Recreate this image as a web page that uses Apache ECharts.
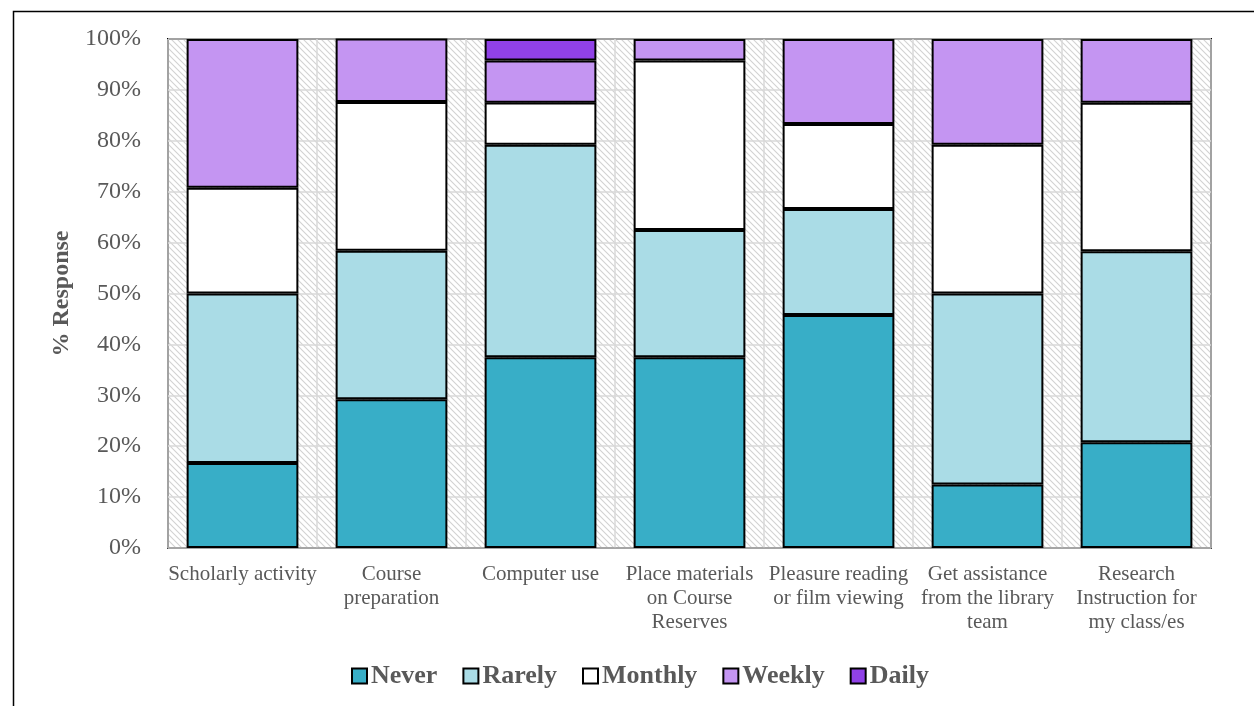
<!DOCTYPE html>
<html>
<head>
<meta charset="utf-8">
<script src="https://cdn.jsdelivr.net/npm/echarts@6/dist/echarts.min.js"></script>
<style>
html,body{margin:0;padding:0;background:#fff;}
#chart{width:1254px;height:706px;}
</style>
</head>
<body>
<div id="chart"></div>
<script>
const categories = ['Scholarly activity', 'Course\npreparation', 'Computer use', 'Place materials\non Course\nReserves', 'Pleasure reading\nor film viewing', 'Get assistance\nfrom the library\nteam', 'Research\nInstruction for\nmy class/es'];
const never   = [16.7, 29.2, 37.5, 37.5, 45.8, 12.5, 20.8];
const rarely  = [33.3, 29.2, 41.7, 25.0, 20.8, 37.5, 37.5];
const monthly = [20.8, 29.2, 8.3, 33.3, 16.7, 29.2, 29.2];
const weekly  = [29.2, 12.5, 8.3, 4.2, 16.7, 20.8, 12.5];
const daily   = [0, 0, 4.2, 0, 0, 0, 0];
const yTicks = [0, 10, 20, 30, 40, 50, 60, 70, 80, 90, 100];

const seriesDefs = [
  {name: 'Never', data: never, color: '#38AEC7'},
  {name: 'Rarely', data: rarely, color: '#AADCE6'},
  {name: 'Monthly', data: monthly, color: '#FFFFFF'},
  {name: 'Weekly', data: weekly, color: '#C495F2'},
  {name: 'Daily', data: daily, color: '#9041E7'}
];

// hatch pattern
const pc = document.createElement('canvas');
pc.width = 6; pc.height = 6;
const ctx = pc.getContext('2d');
ctx.fillStyle = '#ffffff';
ctx.fillRect(0, 0, 6, 6);
ctx.strokeStyle = '#d2d2d2';
ctx.lineWidth = 1.1;
ctx.beginPath();
ctx.moveTo(-1, -1); ctx.lineTo(7, 7);
ctx.moveTo(-4, 2); ctx.lineTo(2, 8);
ctx.moveTo(2, -4); ctx.lineTo(8, 2);
ctx.stroke();

const font = 'Liberation Serif';
const chart = echarts.init(document.getElementById('chart'));
chart.setOption({
  animation: false,
  textStyle: {fontFamily: font},
  graphic: [{
    type: 'rect', left: 11, top: 9,
    shape: {width: 1400, height: 900},
    style: {fill: 'none', stroke: '#000', lineWidth: 1.5},
    silent: true, z: -10
  }],
  grid: {
    left: 168, right: 43, top: 39, bottom: 158,
    show: true,
    backgroundColor: {image: pc, repeat: 'repeat'},
    borderColor: '#000', borderWidth: 2
  },
  legend: {
    top: 658, left: 346,
    icon: 'rect', itemWidth: 15, itemHeight: 15, itemGap: 25,
    textStyle: {fontFamily: font, fontSize: 26, fontWeight: 'bold', color: '#595959', padding: [0, 0, 0, -1]},
    data: seriesDefs.map(s => s.name)
  },
  xAxis: {
    type: 'category',
    data: categories,
    axisLine: {show: true, lineStyle: {color: '#a6a6a6', width: 1.5}},
    axisTick: {show: false},
    splitLine: {show: true, lineStyle: {color: '#d9d9d9', width: 1.5}},
    axisLabel: {fontFamily: font, fontSize: 21, color: '#595959', margin: 14, lineHeight: 24, interval: 0}
  },
  yAxis: {
    type: 'value', min: 0, max: 100, interval: 10,
    name: '% Response', nameLocation: 'middle', nameGap: 93,
    nameTextStyle: {fontFamily: font, fontSize: 24, fontWeight: 'bold', color: '#595959'},
    axisLine: {show: false},
    axisTick: {show: false},
    splitLine: {show: true, lineStyle: {color: '#d9d9d9', width: 1.5}},
    axisLabel: {fontFamily: font, fontSize: 24, color: '#595959', margin: 27,
      formatter: v => yTicks.includes(v) ? v + '%' : ''}
  },
  series: seriesDefs.map(s => ({
    name: s.name, type: 'bar', stack: 'all', barWidth: '75%',
    data: s.data.map(v => v === 0 ? null : v),
    itemStyle: {color: s.color, borderColor: '#000', borderWidth: 2}
  }))
});
</script>
</body>
</html>
